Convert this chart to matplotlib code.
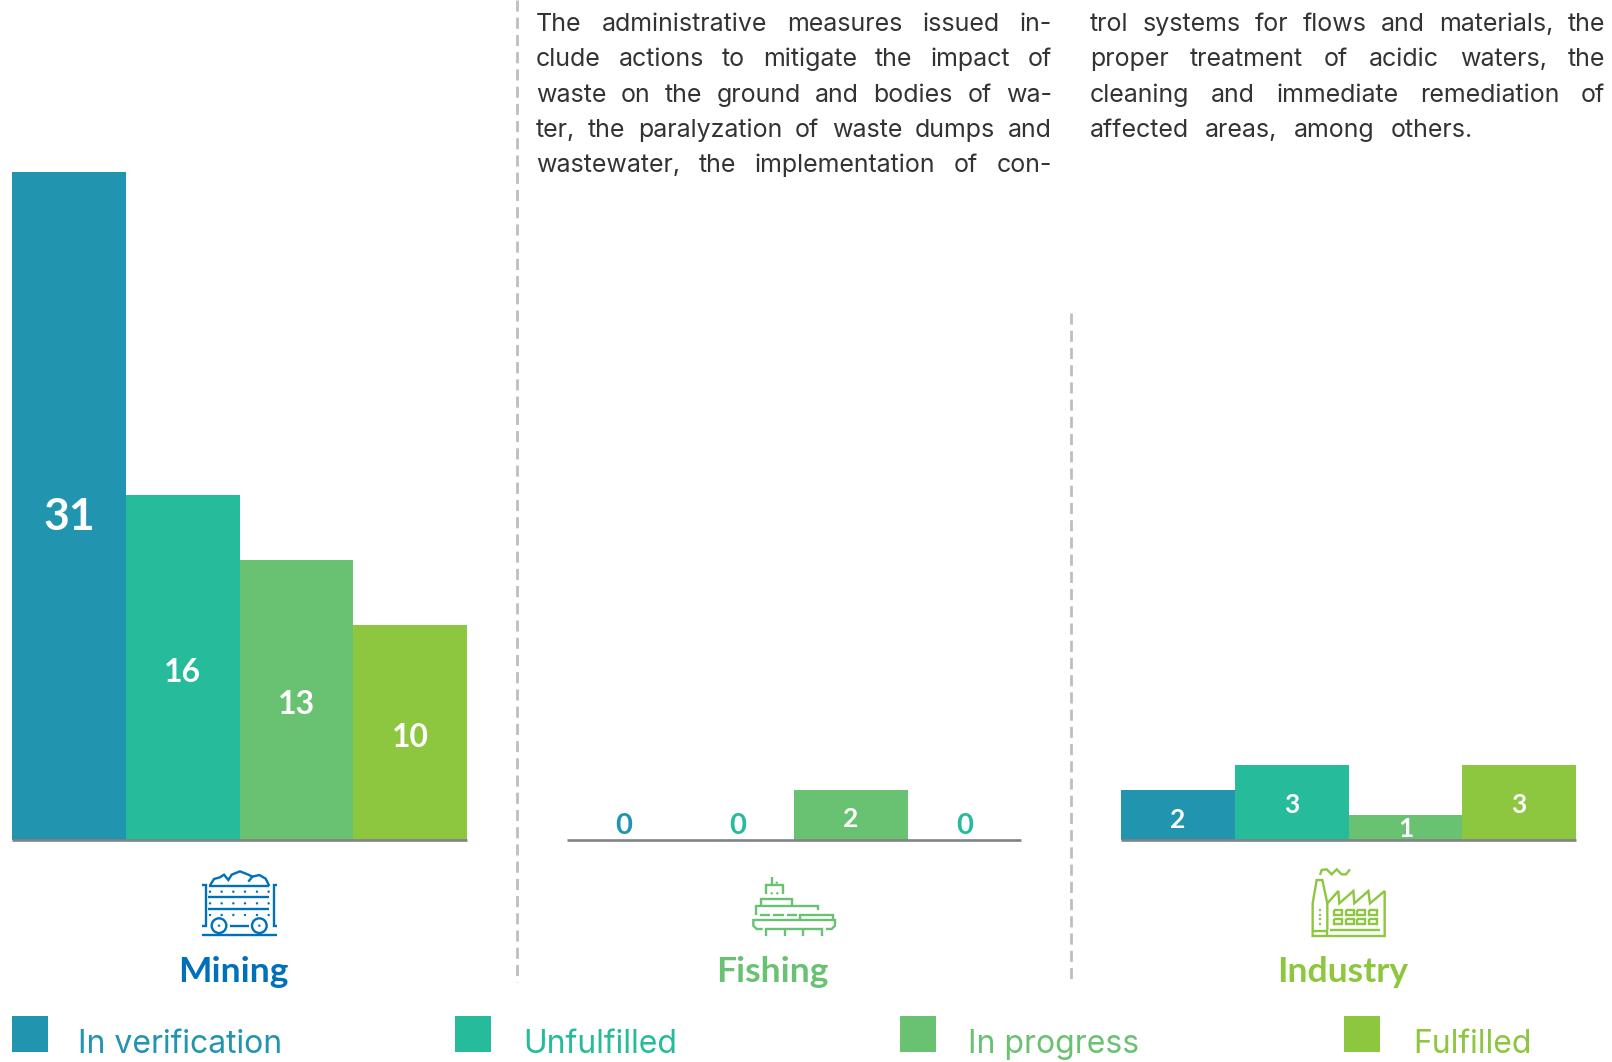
import matplotlib
matplotlib.use('Agg')
import matplotlib.pyplot as plt
from matplotlib.patches import Rectangle, Circle

W, H = 1612, 1062
plt.rcParams['font.family'] = ['Lato', 'DejaVu Sans']

statuses = ['In verification', 'Unfulfilled', 'In progress', 'Fulfilled']
colors = ['#2194b0', '#25bb9b', '#69c172', '#8dc63f']
mining = [31, 16, 13, 10]
fishing = [0, 0, 2, 0]
industry = [2, 3, 1, 3]
sectors = ['Mining', 'Fishing', 'Industry']
sector_colors = ['#0070bb', '#69c172', '#8dc63f']
# the last zero in the fishing panel is teal in the original
zero_colors = {0: '#2194b0', 1: '#25bb9b', 3: '#25bb9b'}

col1 = ['The administrative measures issued in-',
        'clude actions to mitigate the impact of',
        'waste on the ground and bodies of wa-',
        'ter, the paralyzation of waste dumps and',
        'wastewater, the implementation of con-']
col2 = ['trol systems for flows and materials, the',
        'proper treatment of acidic waters, the',
        'cleaning and immediate remediation of',
        'affected areas, among others.']

fig = plt.figure(figsize=(W / 100, H / 100), dpi=100, facecolor='white')

# overlay in pixel coordinates for text blocks, icons and legend
bg = fig.add_axes([0, 0, 1, 1])
bg.set_xlim(0, W)
bg.set_ylim(H, 0)
bg.axis('off')


def panel(x0, x1, values, ymax, top, label_sizes, offsets):
    base = 840
    ax = fig.add_axes([x0 / W, 1 - base / H, (x1 - x0) / W, (base - top) / H])
    ax.bar(range(4), values, width=1, color=colors, linewidth=0)
    ax.set_xlim(-0.5, 3.5)
    ax.set_ylim(0, ymax)
    ax.patch.set_alpha(0)
    for s in ['top', 'left', 'right']:
        ax.spines[s].set_visible(False)
    ax.spines['bottom'].set_color('#808285')
    ax.spines['bottom'].set_linewidth(1.9)
    ax.spines['bottom'].set_capstyle('butt')
    ax.set_xticks([])
    ax.set_yticks([])
    for i, v in enumerate(values):
        c = 'white' if v > 0 else zero_colors[i]
        ax.annotate(str(v), (i, v / 2), xytext=(0, offsets[i]), textcoords='offset pixels',
                    ha='center', va='center_baseline', fontsize=label_sizes[i], fontweight='bold',
                    color=c, annotation_clip=False)
    return ax


panel(12, 467, mining, 31, 172, [32, 23, 23, 23], [-7, -2, -2, -3])
panel(567, 1021, fishing, 3, 765, [21, 21, 19, 21], [16, 16, -2, 16])
panel(1121, 1576, industry, 3, 764.5, [19, 19, 19, 19], [-3, -1, 0, -1])


def justified(lines, left, right, ends=None):
    fig.canvas.draw()
    rend = fig.canvas.get_renderer()
    for n, line in enumerate(lines):
        y = 31 + 35.3 * n
        words = line.split(' ')
        arts = [bg.text(0, y, w, fontsize=18, family='Inter', color='#333333', ha='left', va='baseline')
                for w in words]
        widths = [a.get_window_extent(rend).width for a in arts]
        r = right
        if ends and n in ends:
            r = ends[n]
        gap = (r - left - sum(widths)) / (len(words) - 1)
        x = left
        for a, wd in zip(arts, widths):
            a.set_x(x)
            x += wd + gap


justified(col1, 536, 1052)
justified(col2, 1090, 1605, {3: 1473})

# dashed separators
for x, y0 in [(517, 0), (1071, 313)]:
    bg.plot([x, x], [y0, 982], color='#bcbec0', lw=2, dashes=(4, 2.2))

# sector names
for name, c, cx in zip(sectors, sector_colors, [233, 772, 1343]):
    bg.text(cx, 982, name, fontsize=25.5, fontweight='bold', color=c, ha='center', va='baseline')

# legend
for name, c, x, tx in zip(statuses, colors, [12, 455, 900, 1344], [78, 523, 968, 1413]):
    bg.add_patch(Rectangle((x, 1016), 36, 36, facecolor=c, edgecolor='none'))
    bg.text(tx, 1053, name, fontsize=23, family='Inter', color=c, ha='left', va='baseline')


def icon(ox, oy, c, lines, dots=(), circles=()):
    # icon coordinates are 3x zoomed pixels from the origin ox, oy
    for pts in lines:
        bg.plot([ox + p[0] / 3 for p in pts], [oy + p[1] / 3 for p in pts],
                color=c, lw=1.7, solid_capstyle='butt', solid_joinstyle='miter')
    for p in dots:
        bg.add_patch(Circle((ox + p[0] / 3, oy + p[1] / 3), 1.2, color=c, lw=0))
    for p in circles:
        bg.add_patch(Circle((ox + p[0] / 3, oy + p[1] / 3), p[2] / 3, fill=False, edgecolor=c, lw=1.7))


# mine cart
icon(0, 780, sector_colors[0],
     [[(606, 316), (617, 316), (617, 437), (606, 437)],
      [(832, 316), (821, 316), (821, 437), (832, 437)],
      [(628, 318), (808, 318)], [(625, 352), (808, 352)], [(625, 387), (808, 387)],
      [(690, 437), (747, 437)], [(605, 466), (832, 466)],
      [(630, 316), (642, 297), (660, 292), (672, 284), (685, 300), (695, 284), (720, 274),
       (745, 284), (757, 290), (745, 305)],
      [(757, 290), (778, 285), (797, 296), (808, 318)]],
     dots=[(x, y) for y in (335, 370, 405) for x in (630, 665, 700, 735, 771, 806)] + [(657, 437), (778, 437)],
     circles=[(657, 437, 22), (778, 437, 22)])

# ship
icon(540, 760, sector_colors[1],
     [[(695, 350), (695, 373)],
      [(677, 401), (677, 375), (728, 375), (728, 401)],
      [(662, 435), (662, 416), (755, 416), (755, 435)],
      [(647, 466), (647, 437), (835, 437), (835, 450)],
      [(660, 464), (690, 464)], [(700, 464), (733, 464)], [(740, 464), (770, 464)],
      [(780, 480), (780, 464), (878, 464), (878, 480)],
      [(668, 507), (650, 507), (640, 497), (640, 480), (885, 480), (885, 497), (875, 507), (858, 507)],
      [(678, 528), (678, 508), (847, 508), (847, 528)],
      [(735, 508), (735, 528)], [(790, 508), (790, 528)]],
     dots=[(710, 368), (695, 400), (712, 400)])

# factory
windows = [[(x, y), (x + 24, y), (x + 24, y + 15), (x, y + 15), (x, y)]
           for y in (510, 537) for x in (732, 767, 802, 836)]
icon(1090, 740, sector_colors[2],
     [[(690, 405), (695, 390), (710, 388), (725, 403), (740, 388), (755, 403), (768, 403), (780, 388)],
      [(668, 580), (668, 490), (680, 420), (697, 420), (712, 490), (712, 570)],
      [(668, 580), (668, 588), (884, 588), (884, 453), (840, 490), (835, 453), (793, 490),
       (790, 453), (748, 490), (745, 453), (712, 490)],
      [(720, 570), (870, 570)], [(670, 573), (712, 573), (712, 588)]] + windows,
     dots=[(690, 510), (690, 525), (690, 537), (690, 552)])

fig.savefig('out.png', dpi=100)
